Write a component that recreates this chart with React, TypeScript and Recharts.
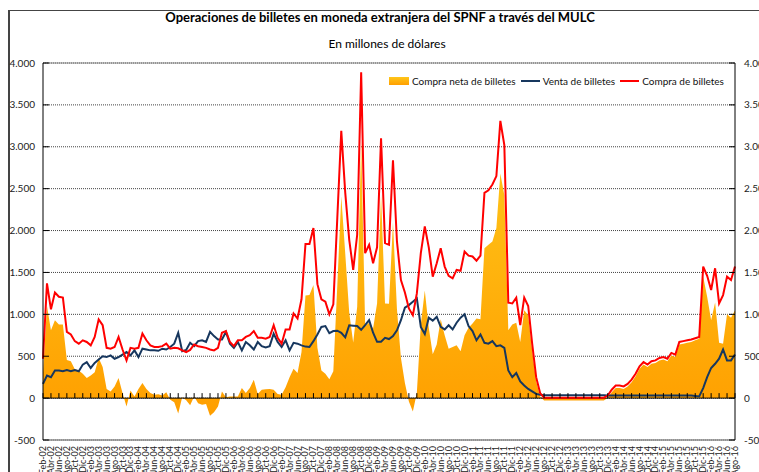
import { ComposedChart, Area, Line, XAxis, YAxis, CartesianGrid, ReferenceLine } from "recharts"

// millones de USD, mensual feb-02 a ago-16
const COMPRA = [
  470, 1370, 1060, 1260, 1210, 1200, 790, 760, 680, 650,
  690, 670, 630, 730, 940, 870, 600, 590, 610, 730,
  580, 450, 600, 590, 600, 770, 690, 630, 610, 610,
  620, 650, 590, 600, 595, 570, 550, 575, 640, 620,
  610, 600, 580, 570, 600, 780, 800, 670, 620, 690,
  690, 730, 750, 800, 720, 720, 710, 730, 870, 720,
  650, 820, 820, 1010, 950, 1180, 1840, 1840, 2030, 1360,
  1180, 1150, 1000, 1120, 2150, 3190, 2450, 1890, 1530, 1950,
  3890, 1730, 1830, 1610, 1800, 3100, 1850, 1830, 2840, 1870,
  1410, 1260, 1070, 990, 1250, 1730, 2050, 1800, 1450, 1610,
  1790, 1570, 1460, 1430, 1530, 1520, 1750, 1700, 1690, 1640,
  1700, 2450, 2480, 2550, 2650, 3310, 3020, 1140, 1130, 1200,
  870, 1200, 1100, 650, 250, 60, 5, 5, 5, 5,
  5, 5, 5, 5, 5, 5, 5, 5, 5, 5,
  5, 5, 30, 100, 150, 150, 140, 170, 220, 290,
  380, 430, 400, 440, 450, 480, 490, 470, 540, 520,
  670, 680, 690, 700, 715, 730, 1570, 1460, 1290, 1550,
  1130, 1230, 1450, 1410, 1570,
]

const VENTA = [
  170, 270, 250, 330, 330, 320, 335, 320, 335, 320,
  400, 430, 360, 420, 460, 500, 490, 510, 470, 490,
  520, 550, 510, 570, 490, 590, 580, 570, 570, 565,
  590, 580, 610, 650, 780, 560, 575, 660, 620, 680,
  690, 670, 790, 740, 700, 700, 790, 650, 600, 670,
  570, 670, 630, 580, 670, 620, 605, 620, 770, 670,
  610, 690, 570, 660, 650, 630, 615, 610, 680, 760,
  850, 860, 775, 800, 805, 780, 725, 870, 865, 860,
  815, 870, 930, 780, 672, 672, 720, 705, 740, 810,
  930, 1080, 1110, 1150, 1190, 850, 765, 960, 925, 970,
  850, 820, 870, 820, 900, 960, 1000, 860, 800, 690,
  760, 660, 650, 680, 620, 630, 600, 330, 250, 300,
  200, 150, 110, 80, 50, 40, 35, 35, 35, 35,
  35, 35, 35, 35, 35, 35, 35, 35, 35, 35,
  35, 35, 30, 30, 30, 30, 30, 30, 30, 30,
  30, 30, 30, 30, 30, 30, 30, 30, 30, 30,
  30, 30, 30, 30, 25, 20, 120, 250, 360, 410,
  470, 580, 450, 450, 520,
]

const NETA = [
  300, 1100, 810, 930, 880, 880, 455, 440, 345, 330,
  290, 240, 270, 310, 480, 370, 110, 80, 140, 240,
  60, -100, 90, 20, 110, 180, 110, 60, 40, 45,
  30, 70, -20, -50, -185, 10, -25, -85, 20, -60,
  -80, -70, -210, -170, -100, 80, 10, 20, 20, 20,
  120, 60, 120, 220, 50, 100, 105, 110, 100, 50,
  40, 130, 250, 350, 300, 550, 1225, 1230, 1350, 600,
  330, 290, 225, 320, 1345, 2410, 1725, 1020, 665, 1090,
  3075, 860, 900, 830, 1128, 2428, 1130, 1125, 2100, 1060,
  480, 180, -40, -160, 60, 880, 1285, 840, 525, 640,
  940, 750, 590, 610, 630, 560, 750, 840, 890, 950,
  940, 1790, 1830, 1870, 2030, 2680, 2420, 810, 880, 900,
  670, 1050, 990, 570, 200, 20, -30, -30, -30, -30,
  -30, -30, -30, -30, -30, -30, -30, -30, -30, -30,
  -30, -30, 0, 70, 120, 120, 110, 140, 190, 260,
  350, 400, 370, 410, 420, 450, 460, 440, 510, 490,
  640, 650, 660, 670, 690, 710, 1450, 1210, 930, 1140,
  660, 650, 1000, 960, 1050,
]

const MESES = ["Ene", "Feb", "Mar", "Abr", "May", "Jun", "Jul", "Ago", "Sep", "Oct", "Nov", "Dic"]
const Y_TICKS = [-500, 0, 500, 1000, 1500, 2000, 2500, 3000, 3500, 4000]

const W = 759
const H = 472
const PLOT = { left: 43, right: 735, top: 63, bottom: 440 }
const Y_MIN = -500
const Y_MAX = 4000
const ZERO_Y = PLOT.top + ((PLOT.bottom - PLOT.top) * Y_MAX) / (Y_MAX - Y_MIN)
const FONT = "Lato, 'Open Sans', sans-serif"

const data = COMPRA.map((c, i) => {
  const m = (1 + i) % 12
  const yy = 2 + Math.floor((1 + i) / 12)
  return {
    mes: `${MESES[m]}-${String(yy).padStart(2, "0")}`,
    compra: c,
    venta: VENTA[i],
    neta: NETA[i],
  }
})

const fmt = (v: number) => {
  const s = Math.abs(v).toString().replace(/\B(?=(\d{3})+(?!\d))/g, ".")
  return v < 0 ? `-${s}` : s
}

function MonthTick({ x, payload }: any) {
  const ty = PLOT.bottom + 6
  return (
    <g>
      <line x1={x} x2={x} y1={ZERO_Y} y2={ZERO_Y - 5} stroke="#000" strokeWidth={1} />
      <text
        x={x}
        y={ty}
        dy={3}
        transform={`rotate(-90 ${x} ${ty})`}
        textAnchor="end"
        fontSize={9}
        fontFamily={FONT}
        fill="#222"
      >
        {payload.value}
      </text>
    </g>
  )
}

function LeftTick({ y, payload }: any) {
  return (
    <g>
      <line x1={PLOT.left} x2={PLOT.left + 6} y1={y} y2={y} stroke="#000" />
      <text x={35} y={y} dy={3.5} textAnchor="end" fontSize={10} fontFamily={FONT} fill="#222">
        {fmt(payload.value)}
      </text>
    </g>
  )
}

function RightTick({ y, payload }: any) {
  return (
    <g>
      <line x1={PLOT.right - 6} x2={PLOT.right} y1={y} y2={y} stroke="#000" />
      <text x={744} y={y} dy={3.5} textAnchor="start" fontSize={10} fontFamily={FONT} fill="#222">
        {fmt(payload.value)}
      </text>
    </g>
  )
}

function LegendBox() {
  const item = { display: "flex", alignItems: "center", marginRight: 5 } as const
  return (
    <div
      style={{
        position: "absolute",
        left: 389,
        top: 75,
        display: "flex",
        alignItems: "center",
        fontFamily: FONT,
        fontSize: 10,
        color: "#111",
        whiteSpace: "nowrap",
      }}
    >
      <span style={item}>
        <span
          style={{
            display: "inline-block",
            width: 20,
            height: 8,
            marginRight: 3,
            background: "linear-gradient(#FFC61A, #FF9F00)",
          }}
        />
        Compra neta de billetes
      </span>
      <span style={item}>
        <span style={{ display: "inline-block", width: 19, height: 2, marginRight: 3, background: "#17375E" }} />
        Venta de billetes
      </span>
      <span style={item}>
        <span style={{ display: "inline-block", width: 19, height: 2, marginRight: 3, background: "#FF0000" }} />
        Compra de billetes
      </span>
    </div>
  )
}

export default function App() {
  return (
    <div style={{ position: "fixed", left: 0, top: 0, width: W, height: H, overflow: "hidden", background: "#fff" }}>
      <div style={{ position: "absolute", left: 8, top: 10, right: 0, bottom: 0, borderLeft: "2px solid #444", borderTop: "1px solid #444" }} />
      <div
        style={{
          position: "absolute",
          left: 0,
          width: 760,
          top: 9,
          textAlign: "center",
          fontFamily: FONT,
          fontWeight: 700,
          fontSize: 13,
          color: "#000",
        }}
      >
        Operaciones de billetes en moneda extranjera del SPNF a través del MULC
      </div>
      <div
        style={{
          position: "absolute",
          left: 0,
          width: 774,
          top: 36,
          textAlign: "center",
          fontFamily: FONT,
          fontSize: 12,
          color: "#000",
        }}
      >
        En millones de dólares
      </div>
      <ComposedChart
        width={W}
        height={H}
        data={data}
        margin={{ top: PLOT.top, right: 0, bottom: 0, left: 0 }}
        style={{ position: "absolute", left: 0, top: 0 }}
      >
        <defs>
          <linearGradient id="gNeta" x1="0" y1="0" x2="0" y2="1">
            <stop offset="0%" stopColor="#FFC61A" />
            <stop offset="100%" stopColor="#FF9F00" />
          </linearGradient>
        </defs>
        <CartesianGrid yAxisId="l" vertical={false} stroke="#444" strokeDasharray="1 1" />
        <XAxis
          dataKey="mes"
          interval={1}
          height={H - PLOT.bottom}
          tickLine={false}
          axisLine={{ stroke: "#8c8c8c", strokeWidth: 1.5 }}
          tick={(p: any) => <MonthTick {...p} />}
        />
        <YAxis
          yAxisId="l"
          orientation="left"
          width={PLOT.left}
          type="number"
          domain={[Y_MIN, Y_MAX]}
          ticks={Y_TICKS}
          allowDataOverflow
          tickLine={false}
          axisLine={{ stroke: "#000" }}
          tick={(p: any) => <LeftTick {...p} />}
        />
        <YAxis
          yAxisId="r"
          orientation="right"
          width={W - PLOT.right}
          type="number"
          domain={[Y_MIN, Y_MAX]}
          ticks={Y_TICKS}
          allowDataOverflow
          tickLine={false}
          axisLine={{ stroke: "#000" }}
          tick={(p: any) => <RightTick {...p} />}
        />
        <ReferenceLine yAxisId="l" y={Y_MAX} stroke="#888" />
        <Area
          yAxisId="l"
          type="linear"
          dataKey="neta"
          baseValue={0}
          stroke="none"
          fill="url(#gNeta)"
          fillOpacity={1}
          isAnimationActive={false}
        />
        <ReferenceLine yAxisId="l" y={0} stroke="#000" strokeWidth={1} />
        <Line yAxisId="l" type="linear" dataKey="venta" stroke="#17375E" strokeWidth={2} dot={false} isAnimationActive={false} />
        <Line yAxisId="l" type="linear" dataKey="compra" stroke="#FF0000" strokeWidth={2} dot={false} isAnimationActive={false} />
      </ComposedChart>
      <LegendBox />
    </div>
  )
}
